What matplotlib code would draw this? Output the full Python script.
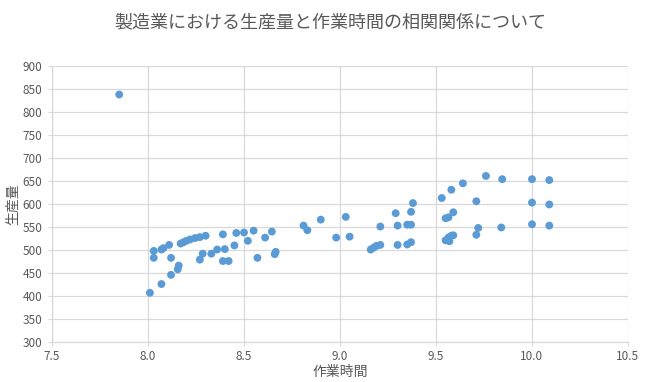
import matplotlib.pyplot as plt
import numpy as np

plt.rcParams['font.family'] = ['Noto Sans CJK JP', 'DejaVu Sans']

# 作業時間 (x) and 生産量 (y)
work_hours = [7.85, 8.01, 8.07, 8.12, 8.155, 8.16, 8.12, 8.03, 8.03, 8.07,
              8.08, 8.11, 8.17, 8.185, 8.20, 8.22, 8.245, 8.27, 8.30, 8.27,
              8.285, 8.33, 8.36, 8.39, 8.40, 8.39, 8.42, 8.45, 8.46, 8.50,
              8.52, 8.55, 8.57, 8.61, 8.645, 8.665, 8.66, 8.81, 8.83, 8.90,
              9.03, 8.98, 9.05, 9.16, 9.175, 9.19, 9.21, 9.21, 9.29, 9.30,
              9.30, 9.35, 9.37, 9.35, 9.37, 9.37, 9.38, 9.53, 9.58, 9.64,
              9.76, 9.845, 9.71, 9.59, 9.565, 9.55, 9.72, 9.84, 9.71, 9.55,
              9.565, 9.58, 9.59, 9.57, 10.0, 10.09, 10.0, 10.09, 10.0, 10.09]
production = [838, 407, 426, 446, 458, 466, 483, 483, 498, 501,
              504, 511, 514, 517, 520, 523, 526, 528, 531, 479,
              492, 492, 501, 534, 502, 476, 476, 510, 537, 538,
              520, 542, 483, 527, 540, 496, 491, 553, 543, 566,
              572, 527, 529, 501, 505, 509, 511, 551, 580, 553,
              511, 555, 555, 512, 517, 583, 602, 613, 631, 645,
              661, 654, 606, 582, 571, 569, 548, 549, 533, 521,
              527, 531, 532, 519, 654, 652, 603, 599, 556, 553]

x_ticks = [7.5, 8.0, 8.5, 9.0, 9.5, 10.0, 10.5]
y_ticks = list(range(300, 901, 50))

text_color = '#595959'
grid_color = '#d9d9d9'

fig = plt.figure(figsize=(6.6, 3.82), dpi=100)
ax = fig.add_axes([52 / 660, 1 - 342 / 382, 576 / 660, 276 / 382])

ax.scatter(work_hours, production, s=32, color='#5b9bd5', edgecolors='none', zorder=3)

ax.set_xlim(7.5, 10.5)
ax.set_ylim(300, 900)
ax.set_xticks(x_ticks)
ax.set_xticklabels([f'{t:.1f}' for t in x_ticks])
ax.set_yticks(y_ticks)
ax.grid(True, color=grid_color, linewidth=0.9)
ax.set_axisbelow(True)

for side in ['top', 'right']:
    ax.spines[side].set_visible(False)
for side in ['left', 'bottom']:
    ax.spines[side].set_color(grid_color)
    ax.spines[side].set_linewidth(0.9)

ax.tick_params(axis='both', colors=grid_color, labelcolor=text_color, labelsize=8.5, length=3)
ax.tick_params(axis='y', pad=4)
ax.tick_params(axis='x', pad=3)

ax.set_xlabel('作業時間', fontsize=10, color=text_color, labelpad=1)
ax.set_ylabel('生産量', fontsize=10, color=text_color, labelpad=2)

fig.text(0.5, 1 - 22 / 382, '製造業における生産量と作業時間の相関関係について',
         ha='center', va='center', fontsize=13, color=text_color)

plt.savefig('out.png', dpi=100)
plt.close(fig)
